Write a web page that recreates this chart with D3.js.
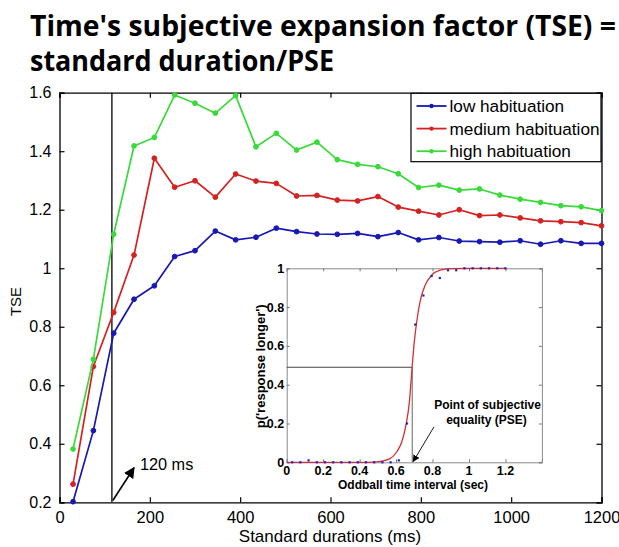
<!DOCTYPE html>
<html>
<head>
<meta charset="utf-8">
<script src="https://cdn.jsdelivr.net/npm/d3@7"></script>
<style>
  body { margin: 0; background: #fff; }
  text { font-family: "Liberation Sans", Arial, sans-serif; }
</style>
</head>
<body>
<script>
// standard durations (ms) and TSE per habituation level
const durations = [30, 75, 120, 165, 210, 255, 300, 345, 390, 435, 480, 525, 570, 615,
  660, 705, 750, 795, 840, 885, 930, 975, 1020, 1065, 1110, 1155, 1200];
const lowHab = [0.202, 0.445, 0.778, 0.894, 0.940, 1.040, 1.060, 1.127, 1.097, 1.106, 1.137,
  1.125, 1.117, 1.116, 1.119, 1.108, 1.122, 1.097, 1.105, 1.093, 1.091, 1.089, 1.094, 1.082,
  1.094, 1.085, 1.085];
const medHab = [0.262, 0.664, 0.849, 1.045, 1.376, 1.277, 1.299, 1.243, 1.322, 1.298, 1.290,
  1.247, 1.249, 1.233, 1.230, 1.245, 1.209, 1.195, 1.182, 1.200, 1.180, 1.182, 1.172, 1.162,
  1.159, 1.156, 1.145];
const highHab = [0.382, 0.689, 1.116, 1.418, 1.447, 1.592, 1.564, 1.530, 1.590, 1.415, 1.461,
  1.404, 1.431, 1.371, 1.355, 1.347, 1.323, 1.276, 1.284, 1.267, 1.271, 1.250, 1.236, 1.225,
  1.214, 1.210, 1.197];
const seriesNames = ["low habituation", "medium habituation", "high habituation"];
const xTicks = [0, 200, 400, 600, 800, 1000, 1200];
const yTicks = [0.2, 0.4, 0.6, 0.8, 1.0, 1.2, 1.4, 1.6];
const markerLine = 116;

// inset: psychometric function
const oddball = [0.03, 0.075, 0.12, 0.165, 0.21, 0.255, 0.3, 0.345, 0.39, 0.435, 0.48, 0.525,
  0.57, 0.615, 0.66, 0.705, 0.75, 0.795, 0.84, 0.885, 0.93, 0.975, 1.02, 1.065, 1.11, 1.155, 1.2];
const pLonger = [0, 0, 0.01, 0, 0, 0, 0, 0, 0, 0, 0, 0, 0, 0.01, 0.20, 0.71, 0.86, 0.96, 0.95,
  0.99, 0.99, 1, 1, 1, 1, 1, 1];
const fitX = [0, 0.45, 0.494, 0.567, 0.603, 0.631, 0.654, 0.673, 0.686, 0.698, 0.713, 0.731,
  0.759, 0.795, 0.841, 0.896, 1.0, 1.2];
const fitP = [0, 0, 0.002, 0.019, 0.053, 0.105, 0.19, 0.31, 0.465, 0.603, 0.723, 0.826, 0.912,
  0.964, 0.99, 0.998, 1, 1];
const pse = 0.689, pseP = 0.49;
const insetXTicks = [0, 0.2, 0.4, 0.6, 0.8, 1, 1.2, 1.4];
const insetXLabels = ["0", "0.2", "0.4", "0.6", "0.8", "1", "1.2", ""];
const insetYTicks = [0, 0.2, 0.4, 0.6, 0.8, 1];
const insetYLabels = ["0", "0.2", "0.4", "0.6", "0.8", "1"];

const width = 619, height = 547;
const colors = ["#1818b4", "#d42222", "#3ada3a"];

const svg = d3.select("body").append("svg")
    .attr("width", width)
    .attr("height", height);

svg.append("rect").attr("width", width).attr("height", height).attr("fill", "#fff");

// title
const title = svg.append("g")
    .attr("font-weight", 700)
    .attr("font-size", 28)
    .attr("fill", "#000");
title.append("text").attr("x", 30).attr("y", 36)
    .style("font-family", "'Open Sans', 'Noto Sans', sans-serif")
    .attr("textLength", 586).attr("lengthAdjust", "spacingAndGlyphs")
    .text("Time's subjective expansion factor (TSE) =");
title.append("text").attr("x", 30).attr("y", 71)
    .style("font-family", "'Open Sans', 'Noto Sans', sans-serif")
    .attr("textLength", 304).attr("lengthAdjust", "spacingAndGlyphs")
    .text("standard duration/PSE");

// main axes
const x = d3.scaleLinear().domain([0, 1200]).range([59.5, 601.5]);
const y = d3.scaleLinear().domain([0.2, 1.6]).range([502.3, 92.7]);

const axes = svg.append("g");
axes.append("g")
    .attr("transform", `translate(0,${y(0.2)})`)
    .call(d3.axisBottom(x).tickValues(xTicks).tickSize(-5).tickPadding(9).tickFormat(d3.format("d")))
    .call(g => g.selectAll("text").attr("font-size", 16.5).attr("font-family", null));
axes.append("g")
    .attr("transform", `translate(0,${y(1.6)})`)
    .call(d3.axisTop(x).tickValues(xTicks).tickSize(-5).tickFormat(""));
axes.append("g")
    .attr("transform", `translate(${x(0)},0)`)
    .call(d3.axisLeft(y).tickValues(yTicks).tickSize(-5).tickPadding(8)
      .tickFormat(d => d === 1 ? "1" : d3.format(".1f")(d)))
    .call(g => g.selectAll("text").attr("font-size", 16).attr("font-family", null));
axes.append("g")
    .attr("transform", `translate(${x(1200)},0)`)
    .call(d3.axisRight(y).tickValues(yTicks).tickSize(-5).tickFormat(""));
axes.selectAll(".domain").attr("stroke-width", 1.3);
axes.selectAll(".tick line").attr("stroke-width", 1.2);

svg.append("text")
    .attr("transform", `translate(21,${(y(0.2) + y(1.6)) / 2 + 4}) rotate(-90)`)
    .attr("text-anchor", "middle")
    .attr("font-size", 15)
    .text("TSE");
svg.append("text")
    .attr("x", 330).attr("y", 542)
    .attr("text-anchor", "middle")
    .attr("font-size", 17)
    .text("Standard durations (ms)");

// 120 ms marker
svg.append("line")
    .attr("x1", x(markerLine)).attr("x2", x(markerLine))
    .attr("y1", y(1.6)).attr("y2", y(0.2))
    .attr("stroke", "#111").attr("stroke-width", 1.4);

const defs = svg.append("defs");
defs.append("marker")
    .attr("id", "head").attr("viewBox", "0 0 10 10")
    .attr("refX", 9).attr("refY", 5)
    .attr("markerWidth", 7).attr("markerHeight", 7)
    .attr("markerUnits", "userSpaceOnUse")
    .attr("orient", "auto")
  .append("path").attr("d", "M0,0L10,5L0,10z").attr("fill", "#000");
defs.append("marker")
    .attr("id", "bighead").attr("viewBox", "0 0 10 10")
    .attr("refX", 9).attr("refY", 5)
    .attr("markerWidth", 11).attr("markerHeight", 11)
    .attr("markerUnits", "userSpaceOnUse")
    .attr("orient", "auto")
  .append("path").attr("d", "M0,0L10,5L0,10z").attr("fill", "#000");

svg.append("line")
    .attr("x1", x(118)).attr("y1", y(0.206))
    .attr("x2", x(165)).attr("y2", y(0.318))
    .attr("stroke", "#000").attr("stroke-width", 1.6)
    .attr("marker-end", "url(#bighead)");
svg.append("text")
    .attr("x", x(178)).attr("y", y(0.312))
    .attr("font-size", 16.3)
    .text("120 ms");

// series
const series = [lowHab, medHab, highHab];
const line = d3.line().x((d, i) => x(durations[i])).y(d => y(d));
series.forEach((vals, k) => {
  const g = svg.append("g");
  g.append("path")
      .attr("d", line(vals))
      .attr("fill", "none")
      .attr("stroke", colors[k])
      .attr("stroke-width", 1.7)
      .attr("stroke-linejoin", "round");
  g.selectAll("circle").data(vals).join("circle")
      .attr("cx", (d, i) => x(durations[i]))
      .attr("cy", d => y(d))
      .attr("r", 2.4)
      .attr("fill", colors[k])
      .attr("stroke", colors[k])
      .attr("stroke-width", 1);
});

// legend
const legend = svg.append("g");
legend.append("rect")
    .attr("x", 411).attr("y", 93.3).attr("width", 190).attr("height", 68.4)
    .attr("fill", "#fff").attr("stroke", "#000").attr("stroke-width", 1.2);
seriesNames.forEach((name, k) => {
  const cy = 106 + k * 22.6;
  legend.append("line")
      .attr("x1", 416.5).attr("x2", 446.5).attr("y1", cy).attr("y2", cy)
      .attr("stroke", colors[k]).attr("stroke-width", 1.8);
  legend.append("circle")
      .attr("cx", 431.5).attr("cy", cy).attr("r", 2.2)
      .attr("fill", colors[k]);
  legend.append("text")
      .attr("x", 449.5).attr("y", cy + 6)
      .attr("font-size", 17.2)
      .text(name);
});

// inset
const ix = d3.scaleLinear().domain([0, 1.4]).range([286.7, 541.9]);
const iy = d3.scaleLinear().domain([0, 1]).range([462.3, 268.3]);
const inset = svg.append("g");
inset.append("rect")
    .attr("x", ix(0)).attr("y", iy(1))
    .attr("width", ix(1.4) - ix(0)).attr("height", iy(0) - iy(1))
    .attr("fill", "#fff");

const insetAxes = inset.append("g");
insetAxes.append("g")
    .attr("transform", `translate(0,${iy(0)})`)
    .call(d3.axisBottom(ix).tickValues(insetXTicks).tickSize(-3).tickFormat(""));
insetAxes.append("g")
    .attr("transform", `translate(0,${iy(1)})`)
    .call(d3.axisTop(ix).tickValues(insetXTicks).tickSize(-3).tickFormat(""));
insetAxes.append("g")
    .attr("transform", `translate(${ix(0)},0)`)
    .call(d3.axisLeft(iy).tickValues(insetYTicks).tickSize(-3).tickFormat(""));
insetAxes.append("g")
    .attr("transform", `translate(${ix(1.4)},0)`)
    .call(d3.axisRight(iy).tickValues(insetYTicks).tickSize(-3).tickFormat(""));
insetAxes.selectAll(".domain").attr("stroke", "#8a8a8a");
insetAxes.selectAll(".tick line").attr("stroke", "#777");

// inset tick labels
inset.append("g")
    .attr("font-size", 12.5).attr("font-weight", 700).attr("text-anchor", "middle")
  .selectAll("text").data(insetXTicks).join("text")
    .attr("x", d => ix(d))
    .attr("y", iy(0) + 13)
    .text((d, i) => insetXLabels[i]);
inset.append("g")
    .attr("font-size", 12.5).attr("font-weight", 700).attr("text-anchor", "end")
  .selectAll("text").data(insetYTicks).join("text")
    .attr("x", ix(0) - 2.5)
    .attr("y", d => iy(d) + 4.5)
    .text((d, i) => insetYLabels[i]);

inset.append("text")
    .attr("transform", `translate(265,${(iy(0) + iy(1)) / 2 + 1}) rotate(-90)`)
    .attr("text-anchor", "middle")
    .attr("font-size", 13).attr("font-weight", 700)
    .text("p('response longer')");
inset.append("text")
    .attr("x", 413).attr("y", 489)
    .attr("text-anchor", "middle")
    .attr("font-size", 12).attr("font-weight", 700)
    .text("Oddball time interval (sec)");

// PSE guides
inset.append("line")
    .attr("x1", ix(0)).attr("x2", ix(pse)).attr("y1", iy(pseP)).attr("y2", iy(pseP))
    .attr("stroke", "#444").attr("stroke-width", 1.2);
inset.append("line")
    .attr("x1", ix(pse)).attr("x2", ix(pse)).attr("y1", iy(pseP)).attr("y2", iy(0))
    .attr("stroke", "#888").attr("stroke-width", 1.3);

inset.append("path")
    .attr("d", d3.line().curve(d3.curveMonotoneX).x((d, i) => ix(fitX[i])).y(d => iy(d))(fitP))
    .attr("fill", "none")
    .attr("stroke", "#d43030")
    .attr("stroke-width", 1.3);

inset.selectAll(".pt").data(pLonger).join("rect")
    .attr("class", "pt")
    .attr("x", (d, i) => ix(oddball[i]) - 1.1)
    .attr("y", d => iy(d) - 1.1)
    .attr("width", 2.2).attr("height", 2.2)
    .attr("fill", "#2020d0");

inset.append("line")
    .attr("x1", ix(0.808)).attr("y1", iy(0.183))
    .attr("x2", ix(0.694)).attr("y2", iy(0.004))
    .attr("stroke", "#000").attr("stroke-width", 0.9)
    .attr("marker-end", "url(#head)");

const pseText = inset.append("text")
    .attr("text-anchor", "middle")
    .attr("font-size", 12).attr("font-weight", 700);
pseText.append("tspan").attr("x", 487.5).attr("y", 409).text("Point of subjective");
pseText.append("tspan").attr("x", 486.5).attr("y", 424).text("equality (PSE)");
</script>
</body>
</html>
